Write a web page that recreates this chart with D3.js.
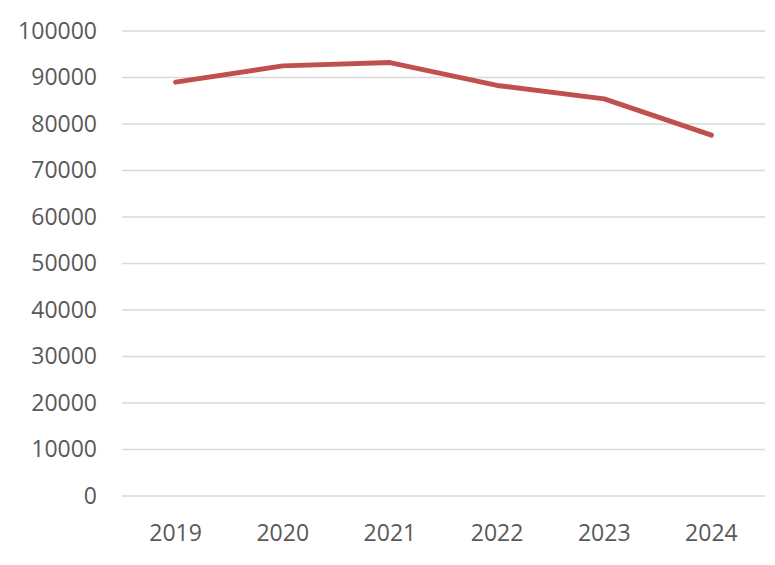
<!DOCTYPE html>
<html>
<head>
<meta charset="utf-8">
<script src="https://cdn.jsdelivr.net/npm/d3@7"></script>
<style>
html,body{margin:0;padding:0;background:#fff;}
svg text{font-family:"Open Sans",sans-serif;}
</style>
</head>
<body>
<svg id="chart" width="775" height="565"></svg>
<script>
const years = ["2019","2020","2021","2022","2023","2024"];
const values = [89000, 92500, 93200, 88300, 85400, 77600];
const yTicks = [0,10000,20000,30000,40000,50000,60000,70000,80000,90000,100000];

(function(){
const svg = d3.select("#chart");
const pLeft = 122, pRight = 765, pTop = 31, pBottom = 496;

const x = d3.scaleBand().domain(years).range([pLeft, pRight]);
const y = d3.scaleLinear().domain([0, 100000]).range([pBottom, pTop]);

svg.append("g").selectAll("line").data(yTicks).join("line")
  .attr("x1", pLeft).attr("x2", pRight)
  .attr("y1", d => y(d)).attr("y2", d => y(d))
  .attr("stroke", "#d9d9d9").attr("stroke-width", 1.3);

const yAxis = d3.axisLeft(y).tickValues(yTicks).tickSize(0).tickPadding(0).tickFormat(d3.format("d"));
const gy = svg.append("g").attr("transform", "translate(97,0)").call(yAxis);
gy.select(".domain").remove();
gy.selectAll("text").attr("fill", "#595959").style("font-size", "23px").style("font-family", "'Open Sans',sans-serif");

const xAxis = d3.axisBottom(x).tickSize(0).tickPadding(0);
const gx = svg.append("g").attr("transform", "translate(0,525)").call(xAxis);
gx.select(".domain").remove();
gx.selectAll("text").attr("fill", "#595959").style("font-size", "23px").style("font-family", "'Open Sans',sans-serif");

const line = d3.line().x((d,i) => x(years[i]) + x.bandwidth()/2).y(d => y(d));
svg.append("path").datum(values)
  .attr("d", line)
  .attr("fill", "none")
  .attr("stroke", "#C0504D")
  .attr("stroke-width", 5)
  .attr("stroke-linejoin", "round")
  .attr("stroke-linecap", "round");
})();
</script>
</body>
</html>
